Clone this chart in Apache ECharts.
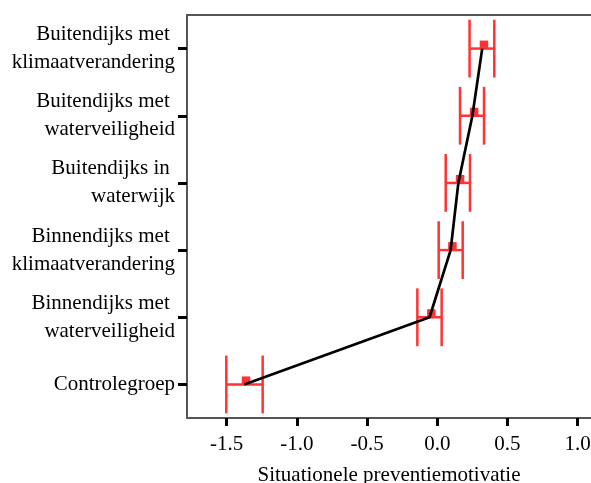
<!DOCTYPE html>
<html>
<head>
<meta charset="utf-8">
<script src="https://cdn.jsdelivr.net/npm/echarts@6/dist/echarts.min.js"></script>
<style>
  html, body { margin: 0; padding: 0; background: #ffffff; }
  #chart { width: 591px; height: 483px; }
</style>
</head>
<body>
<div id="chart"></div>
<script>
// Groups, listed top to bottom
const groups = [
  'Buitendijks met \nklimaatverandering',
  'Buitendijks met \nwaterveiligheid',
  'Buitendijks in \nwaterwijk',
  'Binnendijks met \nklimaatverandering',
  'Binnendijks met \nwaterveiligheid',
  'Controlegroep'
];
// Mean situational prevention motivation per group
const means = [0.32, 0.25, 0.15, 0.095, -0.055, -1.375];
// Lower and upper ends of the error bars
const lower = [0.23, 0.162, 0.06, 0.01, -0.142, -1.503];
const upper = [0.406, 0.333, 0.233, 0.181, 0.031, -1.244];
// Labelled ticks on the value axis
const xTicks = [-1.5, -1.0, -0.5, 0.0, 0.5, 1.0];

const xMin = -1.783;
const xMax = 1.095;
const FONT = '"Liberation Serif", "DejaVu Serif", serif';
const RED = '#ff3333';
const AXIS_GRAY = '#555555';

const barData = groups.map((g, i) => [i, lower[i], upper[i], means[i]]);
const lineData = groups.map((g, i) => [means[i], i]);

const chart = echarts.init(document.getElementById('chart'), null, { renderer: 'canvas' });

chart.setOption({
  animation: false,
  backgroundColor: '#ffffff',
  grid: { left: 187, right: 0, top: 15, bottom: 65, containLabel: false, outerBoundsMode: 'none' },
  xAxis: [
    {
      type: 'value',
      position: 'bottom',
      min: xMin,
      max: xMax,
      name: 'Situationele preventiemotivatie',
      nameLocation: 'middle',
      nameGap: 47,
      nameTextStyle: { fontFamily: FONT, fontSize: 21, color: '#000' },
      axisLine: { show: true, onZero: false, lineStyle: { color: AXIS_GRAY, width: 2 } },
      axisTick: {
        show: true, length: 8, customValues: xTicks,
        lineStyle: { color: '#000', width: 3 }
      },
      axisLabel: {
        customValues: xTicks,
        margin: 16,
        fontFamily: FONT, fontSize: 21, color: '#000',
        formatter: v => v.toFixed(1)
      },
      splitLine: { show: false }
    },
    {
      type: 'value',
      position: 'top',
      min: xMin,
      max: xMax,
      axisLine: { show: true, onZero: false, lineStyle: { color: AXIS_GRAY, width: 2 } },
      axisTick: { show: false },
      axisLabel: { show: false },
      splitLine: { show: false }
    }
  ],
  yAxis: {
    type: 'category',
    data: groups,
    inverse: true,
    axisLine: { show: true, onZero: false, lineStyle: { color: AXIS_GRAY, width: 2 } },
    axisTick: { show: true, alignWithLabel: true, length: 9, lineStyle: { color: '#000', width: 3 } },
    axisLabel: {
      margin: 12,
      fontFamily: FONT, fontSize: 21, color: '#000',
      lineHeight: 28, align: 'right'
    },
    splitLine: { show: false }
  },
  series: [
    {
      // Error bars with caps, plus a small square at each mean
      type: 'custom',
      xAxisIndex: 0,
      z: 2,
      encode: { x: [1, 2, 3], y: 0 },
      data: barData,
      renderItem: (params, api) => {
        const cat = api.value(0);
        const lo = api.coord([api.value(1), cat]);
        const hi = api.coord([api.value(2), cat]);
        const mid = api.coord([api.value(3), cat]);
        const half = api.size([0, 1])[1] * 0.43;
        const style = { stroke: RED, lineWidth: 2.5 };
        return {
          type: 'group',
          children: [
            { type: 'line', shape: { x1: lo[0], y1: lo[1], x2: hi[0], y2: hi[1] }, style },
            { type: 'line', shape: { x1: lo[0], y1: lo[1] - half, x2: lo[0], y2: lo[1] + half }, style },
            { type: 'line', shape: { x1: hi[0], y1: hi[1] - half, x2: hi[0], y2: hi[1] + half }, style },
            { type: 'rect', shape: { x: mid[0] - 2.5, y: mid[1] - 8, width: 8.5, height: 8 }, style: { fill: RED } }
          ]
        };
      }
    },
    {
      // Line joining the group means
      type: 'line',
      xAxisIndex: 0,
      z: 3,
      data: lineData,
      symbol: 'none',
      lineStyle: { color: '#000', width: 2.7 }
    }
  ]
});
</script>
</body>
</html>
